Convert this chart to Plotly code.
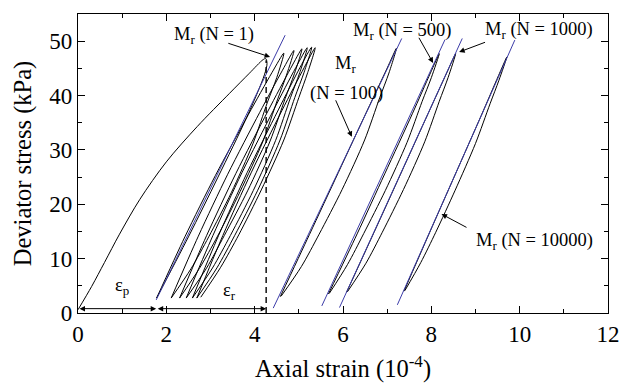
import plotly.graph_objects as go

# ---------------- data ----------------
# first loading + first unloading (N = 1)
first_x = [0.0, 0.31, 0.60, 0.94, 1.40, 2.00, 2.70, 3.43, 3.88, 4.19, 4.25, 4.28, 4.22, 3.82, 3.17, 2.50, 1.78]
first_y = [0.6, 4.9, 9.3, 14.5, 20.9, 27.8, 34.3, 40.4, 44.1, 46.6, 46.8, 45.9, 43.8, 36.0, 25.0, 14.0, 2.75]

# early cycles (cluster of loops)
loop1_x = [1.78, 2.42, 3.11, 3.86, 4.39, 4.66, 4.50, 4.29, 3.96, 3.47, 2.96, 2.56, 2.11]
loop1_y = [2.75, 14.01, 25.28, 36.54, 44.20, 47.8, 43.30, 38.79, 31.13, 22.12, 14.01, 8.16, 2.75]
loop2_x = [2.11, 2.725, 3.39, 4.115, 4.63, 4.89, 4.72, 4.515, 4.18, 3.67, 3.16, 2.75, 2.30]
loop2_y = [2.75, 14.14, 25.53, 36.91, 44.66, 48.3, 43.75, 39.19, 31.45, 22.34, 14.14, 8.22, 2.75]
loop3_x = [2.30, 2.91, 3.575, 4.30, 4.81, 5.07, 4.90, 4.69, 4.35, 3.84, 3.31, 2.91, 2.45]
loop3_y = [2.75, 14.21, 25.68, 37.14, 44.93, 48.6, 44.02, 39.43, 31.64, 22.47, 14.21, 8.25, 2.75]
loop4_x = [2.45, 3.055, 3.71, 4.425, 4.93, 5.19, 5.02, 4.81, 4.475, 3.97, 3.45, 3.045, 2.59]
loop4_y = [2.75, 14.26, 25.78, 37.29, 45.12, 48.8, 44.20, 39.59, 31.76, 22.55, 14.26, 8.28, 2.75]
loop5_x = [2.59, 3.185, 3.83, 4.535, 5.03, 5.29, 5.12, 4.91, 4.575, 4.07, 3.55, 3.145, 2.69]
loop5_y = [2.75, 14.29, 25.83, 37.36, 45.21, 48.9, 44.29, 39.67, 31.82, 22.59, 14.29, 8.29, 2.75]
loop6_x = [2.69, 3.28, 3.92, 4.62, 5.12, 5.37, 5.20, 5.00, 4.66, 4.15, 3.64, 3.23, 2.78]
loop6_y = [2.75, 14.26, 25.78, 37.29, 45.12, 48.8, 44.21, 39.62, 31.82, 22.64, 14.38, 8.41, 2.9]

# later cycles
n100_x = [4.58, 5.24, 5.895, 6.55, 7.00, 7.21, 7.04, 6.83, 6.49, 5.98, 5.46, 5.06, 4.60]
n100_y = [3.0, 14.43, 25.85, 37.28, 45.04, 48.7, 44.14, 39.58, 31.83, 22.71, 14.5, 8.57, 3.1]
n500_x = [5.67, 6.32, 6.945, 7.57, 7.98, 8.18, 8.00, 7.79, 7.45, 6.96, 6.47, 6.10, 5.69]
n500_y = [3.5, 14.55, 25.6, 36.65, 44.16, 47.7, 43.29, 38.88, 31.38, 22.56, 14.63, 8.89, 3.6]
n1000_x = [6.08, 6.70, 7.315, 7.93, 8.35, 8.55, 8.38, 8.18, 7.85, 7.37, 6.89, 6.52, 6.10]
n1000_y = [3.8, 14.78, 25.75, 36.73, 44.19, 47.7, 43.32, 38.94, 31.49, 22.73, 14.85, 9.16, 3.9]
n10000_x = [7.38, 7.96, 8.545, 9.13, 9.52, 9.71, 9.53, 9.33, 9.00, 8.54, 8.10, 7.76, 7.40]
n10000_y = [4.0, 14.78, 25.55, 36.33, 43.65, 47.1, 42.8, 38.5, 31.19, 22.59, 14.85, 9.26, 4.1]

# resilient modulus (secant) lines
mr1_x, mr1_y = [1.77, 4.69], [2.4, 51.1]
mr100_x, mr100_y = [4.42, 7.33], [0.9, 50.5]
mr500_x, mr500_y = [5.52, 8.31], [1.3, 50.3]
mr1000_x, mr1000_y = [5.92, 8.70], [1.0, 50.5]
mr10000_x, mr10000_y = [7.23, 9.89], [1.5, 50.2]

# strain markers
eps_p_range = [0.0, 1.77]
eps_r_range = [1.77, 4.26]
eps_level = 0.8
dash_x = 4.26
dash_top = 46.5

x_ticks = [0, 2, 4, 6, 8, 10, 12]
y_ticks = [0, 10, 20, 30, 40, 50]

# ---------------- figure ----------------
FONT = "Liberation Serif, Times New Roman, serif"
BLACK = "#000000"
BLUE = "#3c3ca8"

fig = go.Figure()

black_curves = [
    (first_x, first_y, 0.9),
    (loop1_x, loop1_y, 0.8), (loop2_x, loop2_y, 0.8), (loop3_x, loop3_y, 0.8),
    (loop4_x, loop4_y, 0.8), (loop5_x, loop5_y, 0.8), (loop6_x, loop6_y, 0.8),
    (n100_x, n100_y, 0.8), (n500_x, n500_y, 0.8), (n1000_x, n1000_y, 0.8),
    (n10000_x, n10000_y, 0.8),
]
for cx, cy, sm in black_curves:
    fig.add_trace(go.Scatter(x=cx, y=cy, mode="lines",
                             line=dict(color=BLACK, width=1, shape="spline", smoothing=sm),
                             showlegend=False, hoverinfo="skip"))

for lx, ly in [(mr1_x, mr1_y), (mr100_x, mr100_y), (mr500_x, mr500_y),
               (mr1000_x, mr1000_y), (mr10000_x, mr10000_y)]:
    fig.add_trace(go.Scatter(x=lx, y=ly, mode="lines",
                             line=dict(color=BLUE, width=1),
                             showlegend=False, hoverinfo="skip"))

# dashed vertical line
fig.add_shape(type="line", x0=dash_x, x1=dash_x, y0=0, y1=dash_top,
              xref="x", yref="y", line=dict(color=BLACK, width=1.4, dash="6px,4px"))

annotations = []

def arrow(x_head, y_head, x_tail, y_tail, both=False):
    annotations.append(dict(
        x=x_head, y=y_head, ax=x_tail, ay=y_tail, xref="x", yref="y",
        axref="x", ayref="y", text="", showarrow=True,
        arrowhead=2, arrowsize=1.1, arrowwidth=1, arrowcolor=BLACK,
        arrowside="end+start" if both else "end", startarrowhead=2, startarrowsize=1.1,
        standoff=0, startstandoff=0))

def label(x, y, text):
    annotations.append(dict(x=x, y=y, xref="x", yref="y", text=text, showarrow=False,
                            font=dict(family=FONT, size=18.5, color=BLACK),
                            xanchor="center", yanchor="middle"))

# epsilon arrows
arrow(eps_p_range[1], eps_level, eps_p_range[0], eps_level, both=True)
arrow(eps_r_range[1], eps_level, eps_r_range[0], eps_level, both=True)
label(1.00, 4.8, "ε<sub>p</sub>")
label(3.43, 3.9, "ε<sub>r</sub>")

# Mr labels and arrows
label(3.08, 51.0, "M<sub>r</sub> (N = 1)")
arrow(4.35, 47.1, 3.37, 49.7)
label(6.05, 45.8, "M<sub>r</sub>")
label(6.09, 40.4, "(N = 100)")
arrow(6.20, 32.4, 5.82, 39.4)
label(7.34, 51.8, "M<sub>r</sub> (N = 500)")
arrow(8.04, 46.0, 7.70, 50.9)
label(10.43, 52.0, "M<sub>r</sub> (N = 1000)")
arrow(8.63, 48.0, 9.25, 49.9)
label(10.34, 13.2, "M<sub>r</sub> (N = 10000)")
arrow(8.23, 18.2, 8.83, 15.6)

axis_common = dict(showgrid=False, zeroline=False, showline=True, linecolor=BLACK,
                   linewidth=1.2, mirror="ticks", ticks="inside", ticklen=7,
                   tickwidth=1.2, tickcolor=BLACK, automargin=False,
                   tickfont=dict(family=FONT, size=23, color=BLACK))

fig.update_layout(
    width=620, height=387,
    margin=dict(l=78, r=12, t=14, b=74),
    paper_bgcolor="white", plot_bgcolor="white",
    xaxis=dict(range=[0, 12], tickvals=x_ticks, ticktext=[str(v) for v in x_ticks],
               minor=dict(dtick=1, ticks="inside", ticklen=4, tickcolor=BLACK, tickwidth=1.2),
               title=dict(text="Axial strain (10<sup>-4</sup>)",
                          font=dict(family=FONT, size=24.5, color=BLACK), standoff=14),
               **axis_common),
    yaxis=dict(range=[0, 55], tickvals=y_ticks, ticktext=[str(v) for v in y_ticks],
               minor=dict(dtick=5, ticks="inside", ticklen=4, tickcolor=BLACK, tickwidth=1.2),
               title=dict(text="Deviator stress (kPa)",
                          font=dict(family=FONT, size=24.5, color=BLACK), standoff=10),
               **axis_common),
    annotations=annotations,
)

fig.write_html("out.html", config={"displayModeBar": False},
               post_script="document.body.style.margin='0px';")
